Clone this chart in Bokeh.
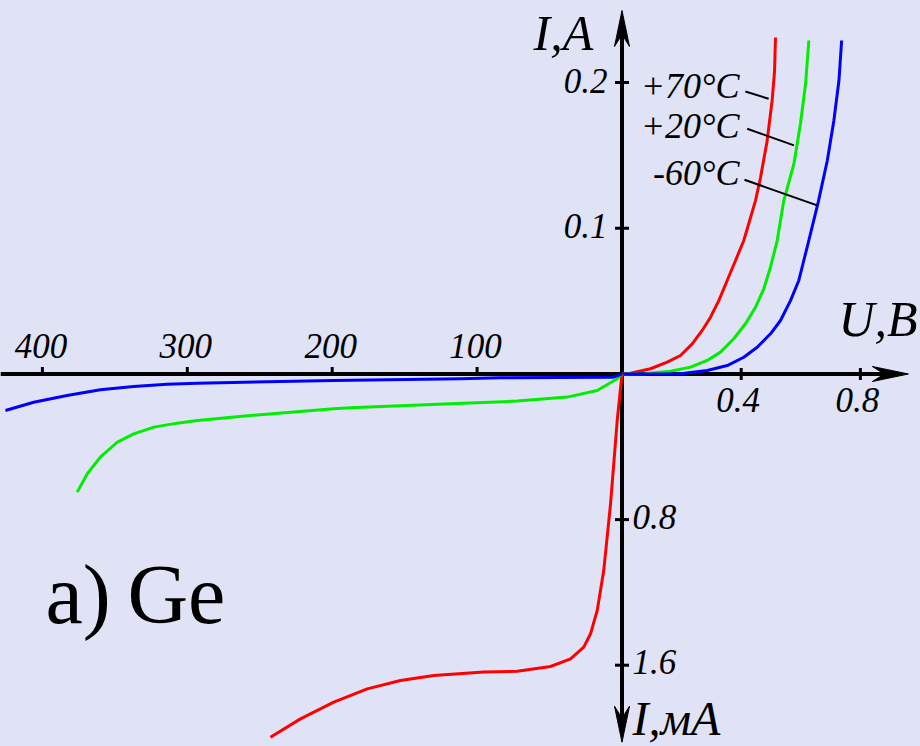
from bokeh.plotting import figure
from bokeh.models import Range1d
from bokeh.core.properties import value
from bokeh.embed import file_html
from bokeh.resources import INLINE

# ---------------- data ----------------
# forward branch: U in V, I in A
fwd_v_70 = [0.0, 0.0285, 0.0956, 0.1517, 0.1963, 0.2356, 0.2691, 0.2970, 0.3248, 0.3530, 0.3809, 0.4087, 0.448, 0.465, 0.487, 0.504, 0.512, 0.515]
fwd_i_70 = [0.0, 0.0005, 0.0036, 0.0081, 0.0127, 0.0207, 0.0299, 0.0390, 0.0504, 0.0642, 0.0779, 0.0916, 0.119, 0.135, 0.160, 0.188, 0.208, 0.231]
fwd_v_20 = [0.0, 0.073, 0.1628, 0.2299, 0.2859, 0.3305, 0.3752, 0.4144, 0.4480, 0.4758, 0.4983, 0.5208, 0.543, 0.577, 0.599, 0.616, 0.627]
fwd_i_20 = [0.0, 0.0001, 0.0019, 0.0047, 0.0093, 0.0150, 0.0242, 0.0345, 0.0458, 0.0585, 0.0733, 0.0916, 0.119, 0.1443, 0.1719, 0.199, 0.2289]
fwd_v_m60 = [0.0, 0.1963, 0.2859, 0.3530, 0.4087, 0.4537, 0.4983, 0.5319, 0.5654, 0.5933, 0.6101, 0.6268, 0.6587, 0.689, 0.711, 0.728, 0.737]
fwd_i_m60 = [0.0, 0.0001, 0.0024, 0.0058, 0.0115, 0.0184, 0.0276, 0.0367, 0.0504, 0.0642, 0.0779, 0.0916, 0.1181, 0.1465, 0.174, 0.2014, 0.2289]

# reverse branch: U in V, I in mA
rev_v_70 = [0, 3.3, 7.9, 12.6, 17.1, 21.7, 26.4, 35.5, 49.3, 72.3, 95.4, 129.9, 152.9, 175.8, 198.9, 221.9, 242.6]
rev_i_70 = [0, 0.2555, 0.713, 1.080, 1.299, 1.427, 1.501, 1.565, 1.607, 1.633, 1.638, 1.657, 1.684, 1.730, 1.803, 1.895, 1.996]
rev_v_20 = [0, 3.3, 17.1, 37.8, 72.3, 118.4, 187.4, 199, 256.4, 293, 307, 323, 337, 348.4, 360, 369, 376]
rev_i_20 = [0, 0.026, 0.0907, 0.127, 0.149, 0.164, 0.186, 0.191, 0.228, 0.255, 0.270, 0.292, 0.3286, 0.375, 0.457, 0.548, 0.649]
rev_v_m60 = [0, 6, 84, 111.5, 199, 293, 314, 337, 360, 383, 406, 425.5]
rev_i_m60 = [0, 0.0176, 0.0209, 0.0264, 0.0357, 0.0505, 0.0563, 0.0687, 0.087, 0.118, 0.155, 0.2005]

# ticks
fwd_v_ticks = [0.4, 0.8]
fwd_v_tick_labels = ["0.4", "0.8"]
rev_v_ticks = [100, 200, 300, 400]
rev_v_tick_labels = ["100", "200", "300", "400"]
fwd_i_ticks = [0.1, 0.2]
fwd_i_tick_labels = ["0.1", "0.2"]
rev_i_ticks = [0.8, 1.6]
rev_i_tick_labels = ["0.8", "1.6"]

# temperature labels (anchor in V / A) and leader lines
temp_labels = ["+70°C", "+20°C", "-60°C"]
temp_label_v = [0.394, 0.394, 0.394]
temp_label_i = [0.1889, 0.1614, 0.1294]
leader_v0 = [0.414, 0.420, 0.411]
leader_i0 = [0.1939, 0.1683, 0.1333]
leader_v1 = [0.492, 0.577, 0.655]
leader_i1 = [0.1889, 0.1569, 0.1157]

# panel caption "a) Ge" (anchors in reverse-volt / mA units)
caption_words = ["a)", "Ge"]
caption_v = [397.9, 341.3]
caption_ma = [1.371, 1.371]

# ---------------- layout / style ----------------
W, H = 920, 746
OX, OY = 621.5, 373.5          # origin in canvas pixels
PX_V = 298.0                   # px per volt (forward)
PX_A = 1457.0                  # px per ampere (forward)
PX_VR = 1.449                  # px per volt (reverse)
PX_MA = 182.0                  # px per mA (reverse)
BG = "#E0E2F5"
RED, GREEN, BLUE = "#FF0000", "#00EE00", "#0000FF"
FONT_IT = value("'Liberation Serif', 'Times New Roman', serif")
BFIX = 0.345                   # baseline correction (em)
GS = 84                        # caption size

def up_a(fs):
    return BFIX * fs / PX_A

def up_ma(fs):
    return -BFIX * fs / PX_MA

p = figure(width=W, height=H,
           x_range=Range1d(-OX / PX_V, (W - OX) / PX_V),
           y_range=Range1d(-(H - OY) / PX_A, OY / PX_A),
           x_axis_type=None, y_axis_type=None,
           toolbar_location=None, output_backend="svg",
           min_border=0, background_fill_color=BG, border_fill_color=BG,
           outline_line_color=None)
p.extra_x_ranges = {"rev": Range1d(OX / PX_VR, -(W - OX) / PX_VR)}
p.extra_y_ranges = {"ma": Range1d((H - OY) / PX_MA, -OY / PX_MA)}
p.grid.visible = False

# warm-up for the upright serif font (empty string, draws nothing)
p.text(x=[0], y=[0], text=[""], text_font=value("Liberation Serif"), text_font_style="normal",
       text_font_size="%dpx" % GS, text_color="black")

# ---- axes with arrows ----
AX_W = 4
X_TIP = 0.961
Y_TIP = 0.2495
Y_TIP_MA = 2.023
L, HW, N = 36, 7.5, 24

p.segment(x0=[-OX / PX_V], y0=[0], x1=[X_TIP - N / PX_V], y1=[0], line_color="black", line_width=AX_W)
p.segment(x0=[0], y0=[0], x1=[0], y1=[Y_TIP - N / PX_A], line_color="black", line_width=AX_W)
p.segment(x0=[0], y0=[0], x1=[0], y1=[Y_TIP_MA - N / PX_MA], line_color="black", line_width=AX_W, y_range_name="ma")
p.patch([X_TIP, X_TIP - L / PX_V, X_TIP - N / PX_V, X_TIP - L / PX_V],
        [0, HW / PX_A, 0, -HW / PX_A], color="black", line_width=1)
p.patch([0, HW / PX_V, 0, -HW / PX_V],
        [Y_TIP, Y_TIP - L / PX_A, Y_TIP - N / PX_A, Y_TIP - L / PX_A], color="black", line_width=1)
p.patch([0, HW / PX_V, 0, -HW / PX_V],
        [Y_TIP_MA, Y_TIP_MA - L / PX_MA, Y_TIP_MA - N / PX_MA, Y_TIP_MA - L / PX_MA],
        color="black", line_width=1, y_range_name="ma")

# ---- ticks ----
TK = 6
p.segment(x0=fwd_v_ticks, x1=fwd_v_ticks, y0=[-TK / PX_A] * 2, y1=[TK / PX_A] * 2, line_color="black", line_width=3)
p.segment(x0=rev_v_ticks, x1=rev_v_ticks, y0=[0] * 4, y1=[7 / PX_A] * 4, line_color="black", line_width=3,
          x_range_name="rev")
p.segment(x0=[-7 / PX_V] * 2, x1=[7 / PX_V] * 2, y0=fwd_i_ticks, y1=fwd_i_ticks, line_color="black", line_width=3)
p.segment(x0=[-7 / PX_V] * 2, x1=[7 / PX_V] * 2, y0=rev_i_ticks, y1=rev_i_ticks, line_color="black", line_width=3,
          y_range_name="ma")

# ---- tick labels ----
FS = 35
TS = "%dpx" % FS
p.text(x=[v - 3 / PX_V for v in fwd_v_ticks], y=[-38 / PX_A + up_a(FS)] * 2, text=fwd_v_tick_labels,
       text_font=FONT_IT, text_font_style="italic", text_font_size=TS, text_align="center",
       text_baseline="alphabetic", text_color="black")
p.text(x=[v + 1.5 / PX_VR for v in rev_v_ticks], y=[16 / PX_A + up_a(FS)] * 4, text=rev_v_tick_labels,
       text_font=FONT_IT, text_font_style="italic", text_font_size=TS, text_align="center",
       text_baseline="alphabetic", text_color="black", x_range_name="rev")
p.text(x=[-14.5 / PX_V] * 2, y=[t - 10 / PX_A + up_a(FS) for t in fwd_i_ticks], text=fwd_i_tick_labels,
       text_font=FONT_IT, text_font_style="italic", text_font_size=TS, text_align="right",
       text_baseline="alphabetic", text_color="black")
p.text(x=[10.5 / PX_V] * 2, y=[t + 9 / PX_MA + up_ma(FS) for t in rev_i_ticks], text=rev_i_tick_labels,
       text_font=FONT_IT, text_font_style="italic", text_font_size=TS, text_align="left",
       text_baseline="alphabetic", text_color="black", y_range_name="ma")

# ---- curves ----
LW = 3
p.line(fwd_v_70, fwd_i_70, line_color=RED, line_width=LW, line_join="round")
p.line(fwd_v_20, fwd_i_20, line_color=GREEN, line_width=LW, line_join="round")
p.line(fwd_v_m60, fwd_i_m60, line_color=BLUE, line_width=LW, line_join="round")
p.line(rev_v_70, rev_i_70, line_color=RED, line_width=LW, line_join="round", x_range_name="rev", y_range_name="ma")
p.line(rev_v_20, rev_i_20, line_color=GREEN, line_width=LW, line_join="round", x_range_name="rev", y_range_name="ma")
p.line(rev_v_m60, rev_i_m60, line_color=BLUE, line_width=LW, line_join="round", x_range_name="rev", y_range_name="ma")

# ---- temperature labels ----
LS = 36
p.segment(x0=leader_v0, y0=leader_i0, x1=leader_v1, y1=leader_i1, line_color="black", line_width=2)
p.text(x=temp_label_v, y=[t + up_a(LS) for t in temp_label_i], text=temp_labels, text_font=FONT_IT,
       text_font_style="italic", text_font_size="%dpx" % LS, text_align="right", text_baseline="alphabetic",
       text_color="black")

# ---- axis titles ----
AS = 50
p.text(x=[-0.297], y=[0.222 + up_a(AS)], text=["I,А"], text_font=FONT_IT, text_font_style="italic",
       text_font_size="%dpx" % AS, text_align="left", text_baseline="alphabetic", text_color="black")
p.text(x=[0.7265], y=[0.0257 + up_a(AS)], text=["U,В"], text_font=FONT_IT, text_font_style="italic",
       text_font_size="%dpx" % AS, text_align="left", text_baseline="alphabetic", text_color="black")
p.text(x=[0.0352], y=[1.985 + up_ma(48)], text=["I,мА"], text_font=FONT_IT, text_font_style="italic",
       text_font_size="48px", text_align="left", text_baseline="alphabetic", text_color="black",
       y_range_name="ma")

# ---- caption (drawn last) ----
p.text(x=caption_v, y=[m + up_ma(GS) for m in caption_ma], text=caption_words,
       text_font=value("Liberation Serif"), text_font_style="normal", text_font_size="%dpx" % GS,
       text_align="left", text_baseline="alphabetic", text_color="black",
       x_range_name="rev", y_range_name="ma")

html = file_html(p, INLINE, title="Ge diode I-V")
html = html.replace("</head>", "<style>html,body{background:%s;overflow:hidden;}</style></head>" % BG, 1)
open("out.html", "w").write(html)
